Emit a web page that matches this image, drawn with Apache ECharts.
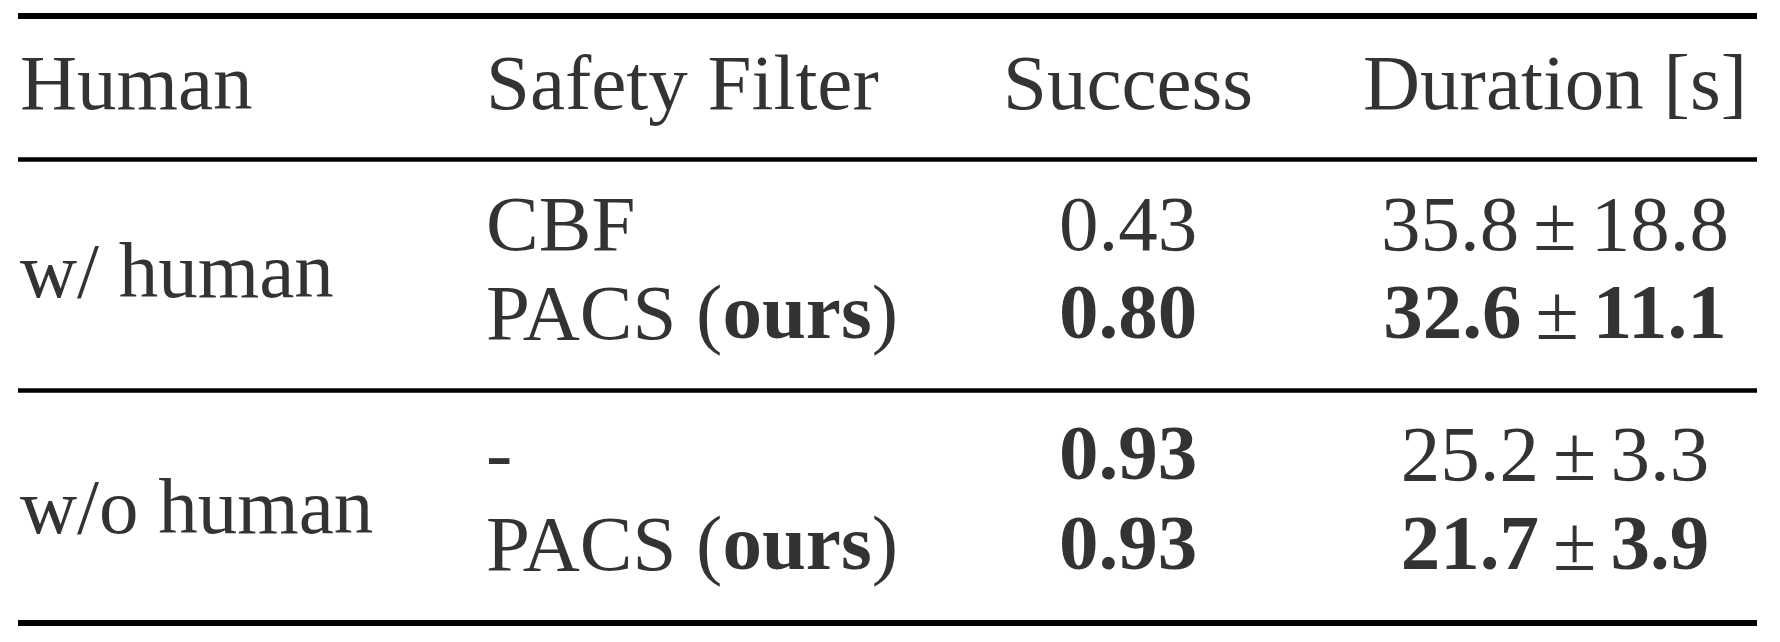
<!DOCTYPE html>
<html><head><meta charset="utf-8">
<script src="https://cdn.jsdelivr.net/npm/echarts@6/dist/echarts.min.js"></script>
<style>html,body{margin:0;padding:0;background:#fff}#c{width:1780px;height:642px}</style>
</head><body><div id="c"></div>
<script>
const headers = ['Human', 'Safety Filter', 'Success', 'Duration [s]'];
const humanGroups = ['w/ human', 'w/o human'];
const filters = ['CBF', 'PACS', '-', 'PACS'];
const filterOurs = [false, true, false, true];
const success = ['0.43', '0.80', '0.93', '0.93'];
const successBold = [false, true, true, true];
const durMean = ['35.8', '32.6', '25.2', '21.7'];
const durStd = ['18.8', '11.1', '3.3', '3.9'];
const durBold = [false, true, false, true];

const W = 1780, H = 642, FS = 79, FONT = 'Liberation Serif';
const colX = [20, 486, 1128, 1555];
const headerY = 88;
const rowY = [229, 318, 459, 549];
const groupY = [276, 512];
const rules = [[16, 6], [159, 4.5], [390, 4.5], [623, 6]];

const rich = {
  n: {fontFamily: FONT, fontSize: FS, color: '#000'},
  b: {fontFamily: FONT, fontSize: FS, fontWeight: 'bold', color: '#000'},
  pm: {fontFamily: FONT, fontSize: FS, color: '#000', padding: [0, 14]}
};
const pts = [];
function add(x, y, text, align) { pts.push({value: [x, y], label: {formatter: text, align: align}}); }
headers.forEach((h, i) => add(colX[i], headerY, '{n|' + h + '}', i < 2 ? 'left' : 'center'));
humanGroups.forEach((g, i) => add(colX[0], groupY[i], '{n|' + g + '}', 'left'));
filters.forEach((f, i) => {
  add(colX[1], rowY[i], filterOurs[i] ? '{n|' + f + ' (}{b|ours}{n|)}' : '{n|' + f + '}', 'left');
  add(colX[2], rowY[i], (successBold[i] ? '{b|' : '{n|') + success[i] + '}', 'center');
  const t = durBold[i] ? 'b' : 'n';
  add(colX[3], rowY[i], '{' + t + '|' + durMean[i] + '}{pm|±}{' + t + '|' + durStd[i] + '}', 'center');
});

const chart = echarts.init(document.getElementById('c'));
chart.setOption({
  animation: false,
  grid: {left: 0, right: 0, top: 0, bottom: 0},
  xAxis: {type: 'value', min: 0, max: W, show: false},
  yAxis: {type: 'value', min: 0, max: H, inverse: true, show: false},
  series: [{
    type: 'scatter', symbolSize: 0, data: pts,
    label: {show: true, position: 'inside', verticalAlign: 'middle', color: '#000', rich: rich}
  }, {
    type: 'lines', coordinateSystem: 'cartesian2d', silent: true,
    data: rules.map(r => ({coords: [[18, r[0]], [1757, r[0]]], lineStyle: {width: r[1], color: '#000', opacity: 1}}))
  }]
});
</script></body></html>
